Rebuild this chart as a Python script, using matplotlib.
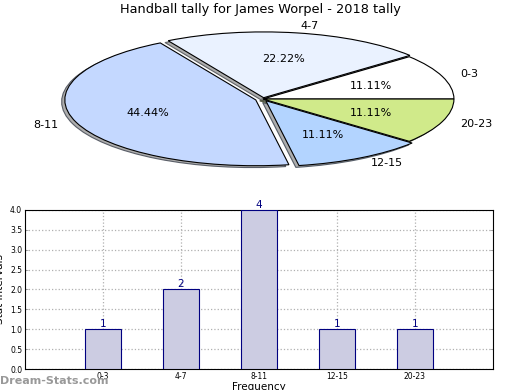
import matplotlib.pyplot as plt
import numpy as np

# data
categories = ['0-3', '4-7', '8-11', '12-15', '20-23']
counts = [1, 2, 4, 1, 1]
pie_colors = ['#ffffff', '#eaf2ff', '#c4d8ff', '#b3d4ff', '#d0ea8a']
explode = [0, 0.02, 0.04, 0.03, 0]

fig = plt.figure(figsize=(5.2, 3.9), dpi=100)

# Pie (squashed into an ellipse)
ax1 = fig.add_axes([0.0, 0.5436, 1.0, 0.405])
wedges, texts, autotexts = ax1.pie(counts, labels=categories, colors=pie_colors,
                                   explode=explode, autopct='%.2f%%',
                                   shadow=dict(ox=-0.012, oy=-0.02, facecolor='#999999',
                                               alpha=0.8),
                                   startangle=0, counterclock=True,
                                   wedgeprops=dict(edgecolor='black', linewidth=0.8),
                                   textprops=dict(fontsize=8))
ax1.set_aspect('auto')
ax1.set_xlim(-1.377, 1.346)
ax1.set_ylim(-1.2, 1.2)
fig.text(0.5, 0.975, 'Handball tally for James Worpel - 2018 tally',
         ha='center', va='center', fontsize=9.3)

# Bars
ax2 = fig.add_axes([0.048, 0.0538, 0.9, 0.408])
x = np.arange(len(categories))
bars = ax2.bar(x, counts, width=0.46, color='#ccccE2', edgecolor='#000080',
               linewidth=0.8, zorder=3)
for xi, c in zip(x, counts):
    ax2.text(xi, c, str(c), ha='center', va='bottom', fontsize=7.5,
             color='#000080', zorder=4)
ax2.set_xlim(-1.0, 5.0)
ax2.set_ylim(0, 4.0)
ax2.set_xticks(x)
ax2.set_xticklabels(categories, fontsize=5.5)
ax2.set_yticks(np.arange(0, 4.01, 0.5))
ax2.set_yticklabels(['%.1f' % v for v in np.arange(0, 4.01, 0.5)], fontsize=5.5)
ax2.tick_params(direction='in', length=2, width=0.5, color='#888888',
                right=True, top=False, pad=2)
ax2.grid(color='#b0b0b0', linestyle=':', linewidth=0.9, zorder=0)
ax2.set_xlabel('Frequency', fontsize=7.5, labelpad=1)
ax2.set_ylabel('Stat Intervals', fontsize=7.5, labelpad=4)
for s in ax2.spines.values():
    s.set_linewidth(0.8)

fig.text(0.0, 0.022, 'Dream-Stats.com', fontsize=8, color='#999999',
         ha='left', va='center', fontweight='bold')

fig.savefig('out.png', dpi=100)
